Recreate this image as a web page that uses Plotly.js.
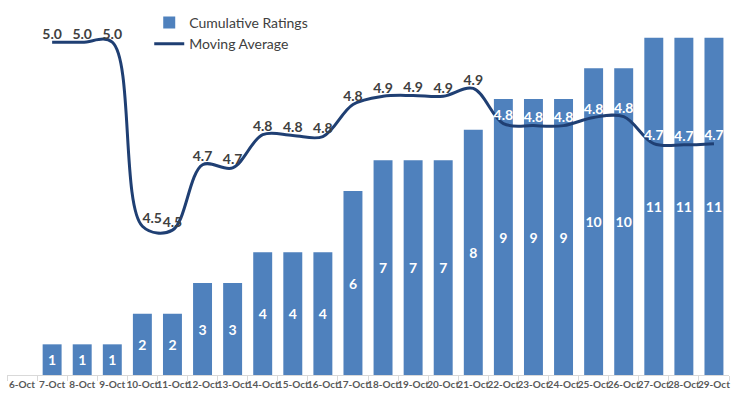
<!DOCTYPE html>
<html>
<head>
<meta charset="utf-8">
<script src="https://cdn.plot.ly/plotly-3.0.1.min.js"></script>
<style>html,body{margin:0;padding:0;background:#fff;}#chart{width:736px;height:399px;}</style>
</head>
<body>
<div id="chart"></div>
<script>
const dates = ["6-Oct","7-Oct","8-Oct","9-Oct","10-Oct","11-Oct","12-Oct","13-Oct","14-Oct","15-Oct","16-Oct","17-Oct","18-Oct","19-Oct","20-Oct","21-Oct","22-Oct","23-Oct","24-Oct","25-Oct","26-Oct","27-Oct","28-Oct","29-Oct"];
const cumulativeRatings = [null,1,1,1,2,2,3,3,4,4,4,6,7,7,7,8,9,9,9,10,10,11,11,11];
const movingAverage = [null,5.0,5.0,5.0,4.53,4.52,4.687,4.679,4.764,4.762,4.759,4.841,4.862,4.864,4.862,4.882,4.792,4.787,4.787,4.808,4.810,4.741,4.738,4.741];
const labelColors = ["#404040","#404040","#404040","#404040","#404040","#404040","#404040","#404040","#404040","#404040","#404040","#404040","#404040","#404040","#404040","#404040","#ffffff","#ffffff","#ffffff","#ffffff","#ffffff","#ffffff","#ffffff","#ffffff"];
const labelPositions = dates.map((d, i) => i === 4 ? "top right" : "top center");

const FONT = "Lato, 'Open Sans', sans-serif";

const bars = {
  type: "bar",
  name: "Cumulative Ratings",
  x: dates,
  y: cumulativeRatings,
  marker: {color: "#4F81BD"},
  texttemplate: "%{y}",
  textposition: "inside",
  insidetextanchor: "middle",
  constraintext: "none",
  textangle: 0,
  textfont: {family: FONT, size: 14, color: "#ffffff", weight: 700},
  hoverinfo: "skip"
};

const line = {
  type: "scatter",
  mode: "lines+text",
  name: "Moving Average",
  x: dates,
  y: movingAverage,
  yaxis: "y2",
  line: {color: "#1F3F73", width: 3, shape: "spline", smoothing: 1},
  texttemplate: "%{y:.1f}",
  textposition: labelPositions,
  textfont: {family: FONT, size: 14, color: labelColors, weight: 700},
  cliponaxis: false,
  connectgaps: false,
  hoverinfo: "skip"
};

const layout = {
  width: 736,
  height: 399,
  margin: {l: 7, r: 7, t: 7, b: 24},
  paper_bgcolor: "#ffffff",
  plot_bgcolor: "#ffffff",
  bargap: 0.37,
  showlegend: true,
  legend: {
    x: 0.197, y: 1.0, xanchor: "left", yanchor: "top",
    font: {family: FONT, size: 14, color: "#404040"},
    bgcolor: "rgba(0,0,0,0)",
    traceorder: "normal",
    itemwidth: 30
  },
  xaxis: {
    type: "category",
    range: [-0.5, dates.length - 0.5],
    automargin: false,
    tickangle: 0,
    showline: true,
    linecolor: "#d9d9d9",
    linewidth: 1,
    ticks: "outside",
    tickson: "boundaries",
    ticklen: 5,
    tickcolor: "#d9d9d9",
    tickfont: {family: FONT, size: 10, color: "#595959", weight: 700},
    showgrid: false,
    zeroline: false,
    fixedrange: true
  },
  yaxis: {
    range: [0, 12],
    visible: false,
    showgrid: false,
    zeroline: false
  },
  yaxis2: {
    range: [4.15, 5.09],
    overlaying: "y",
    side: "right",
    visible: false,
    showgrid: false,
    zeroline: false
  }
};

Plotly.newPlot("chart", [bars, line], layout, {displayModeBar: false, staticPlot: true});
</script>
</body>
</html>
